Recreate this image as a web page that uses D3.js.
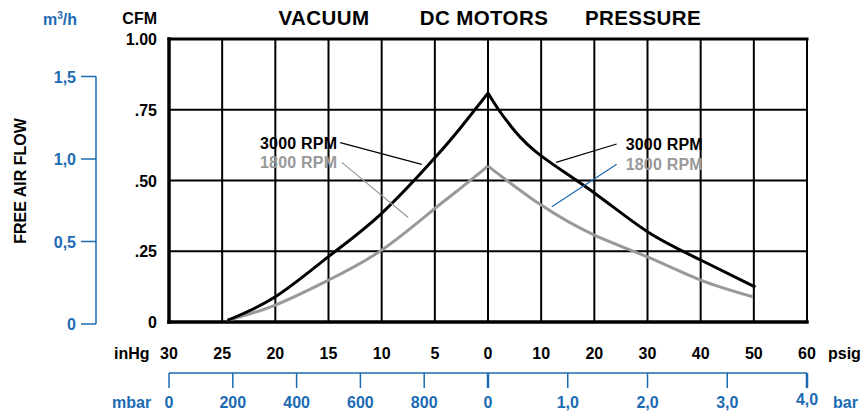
<!DOCTYPE html>
<html>
<head>
<meta charset="utf-8">
<script src="https://cdn.jsdelivr.net/npm/d3@7"></script>
<style>
  body { margin: 0; background: #fff; }
  svg text { font-family: "Liberation Sans", Arial, Helvetica, sans-serif; font-weight: bold; }
</style>
</head>
<body>
<svg id="canvas" width="862" height="411"></svg>
<script>
// tick values / labels
const inHgTicks = [30, 25, 20, 15, 10, 5, 0];
const psigTicks = [0, 10, 20, 30, 40, 50, 60];
const cfmTicks = [0, 0.25, 0.5, 0.75, 1];
const cfmLabels = ['0', '.25', '.50', '.75', '1.00'];
const m3hTicks = [0, 0.5, 1.0, 1.5];
const m3hLabels = ['0', '0,5', '1,0', '1,5'];
const mbarTicks = [0, 200, 400, 600, 800];
const barTicks = [0, 1, 2, 3, 4];
const barLabels = ['0', '1,0', '2,0', '3,0', '4,0'];

// curves: [inHg or psig, CFM]
const vac3000 = [[24.5, 0.006], [20, 0.089], [15, 0.231], [10, 0.384], [5, 0.58], [2.5, 0.69], [0, 0.809]];
const vac1800 = [[24.5, 0.006], [20, 0.06], [15, 0.148], [10, 0.254], [5, 0.401], [2.5, 0.475], [0, 0.551]];
const pres3000 = [[0, 0.809], [2, 0.75], [5, 0.676], [10, 0.587], [20, 0.456], [30, 0.319], [40, 0.219], [50.3, 0.123]];
const pres1800 = [[0, 0.551], [10, 0.413], [20, 0.307], [30, 0.23], [40, 0.148], [49.8, 0.089]];

const svg = d3.select('#canvas');
const blue = '#1b6bb3';
const gray = '#999999';
const fs = '16px';

const xVac = d3.scaleLinear().domain([30, 0]).range([169, 488]);
const xPres = d3.scaleLinear().domain([0, 60]).range([488, 807]);
const y = d3.scaleLinear().domain([0, 1]).range([322, 39]);
const yM = d3.scaleLinear().domain([0, 1.5]).range([324, 76.5]);
const xMbar = d3.scaleLinear().domain([0, 1000]).range([169, 488]);
const xBar = d3.scaleLinear().domain([0, 4]).range([488, 807]);

// grid
const grid = svg.append('g').attr('stroke', '#000').attr('stroke-width', 2);
inHgTicks.slice(1, -1).forEach(v => {
  grid.append('line').attr('x1', xVac(v)).attr('x2', xVac(v)).attr('y1', y(1)).attr('y2', y(0));
});
psigTicks.slice(0, -1).forEach(v => {
  grid.append('line').attr('x1', xPres(v)).attr('x2', xPres(v)).attr('y1', y(1)).attr('y2', y(0));
});
cfmTicks.slice(1, -1).forEach(v => {
  grid.append('line').attr('x1', xVac(30)).attr('x2', xPres(60)).attr('y1', y(v)).attr('y2', y(v));
});

// frame
const frame = svg.append('g').attr('stroke', '#000').attr('stroke-linecap', 'square');
frame.append('line').attr('x1', xVac(30)).attr('x2', xPres(60)).attr('y1', y(1)).attr('y2', y(1)).attr('stroke-width', 3);
frame.append('line').attr('x1', xPres(60)).attr('x2', xPres(60)).attr('y1', y(1)).attr('y2', y(0)).attr('stroke-width', 2);
frame.append('line').attr('x1', xVac(30)).attr('x2', xVac(30)).attr('y1', y(1)).attr('y2', y(0)).attr('stroke-width', 3.5);
frame.append('line').attr('x1', xVac(30)).attr('x2', xPres(60)).attr('y1', y(0)).attr('y2', y(0)).attr('stroke-width', 3.5);

// curves (one path per side so the peak at 0 stays sharp)
const lineVac = d3.line().x(d => xVac(d[0])).y(d => y(d[1])).curve(d3.curveNatural);
const linePres = d3.line().x(d => xPres(d[0])).y(d => y(d[1])).curve(d3.curveNatural);

[[vac1800, lineVac, gray], [pres1800, linePres, gray], [vac3000, lineVac, '#000'], [pres3000, linePres, '#000']]
  .forEach(([data, gen, col]) => {
    svg.append('path')
      .attr('d', gen(data))
      .attr('fill', 'none')
      .attr('stroke', col)
      .attr('stroke-width', 3);
  });

// leaders + labels
const leaders = [
  { from: [xVac(13.9), y(0.634)], to: [xVac(6.23), y(0.557)], col: '#000' },
  { from: [xVac(13.75), y(0.564)], to: [xVac(7.5), y(0.369)], col: gray },
  { from: [xPres(24.2), y(0.629)], to: [xPres(12.8), y(0.564)], col: '#000' },
  { from: [xPres(24.2), y(0.557)], to: [xPres(12.0), y(0.407)], col: blue }
];
leaders.forEach(l => {
  svg.append('line')
    .attr('x1', l.from[0]).attr('y1', l.from[1])
    .attr('x2', l.to[0]).attr('y2', l.to[1])
    .attr('stroke', l.col).attr('stroke-width', 1.2);
});

function label(x, yy, txt, col, anchor) {
  svg.append('text')
    .attr('x', x).attr('y', yy)
    .attr('text-anchor', anchor)
    .attr('fill', col)
    .attr('font-size', fs)
    .attr('letter-spacing', '0.2px')
    .text(txt);
}
label(leaders[0].from[0] - 3, leaders[0].from[1] + 6, '3000 RPM', '#000', 'end');
label(leaders[0].from[0] - 3, leaders[1].from[1] + 6, '1800 RPM', gray, 'end');
label(leaders[2].from[0] + 9, leaders[2].from[1] + 6, '3000 RPM', '#000', 'start');
label(leaders[2].from[0] + 9, leaders[3].from[1] + 6, '1800 RPM', gray, 'start');

// titles
[['VACUUM', 324], ['DC MOTORS', 484], ['PRESSURE', 643]].forEach(([t, x]) => {
  svg.append('text').attr('x', x).attr('y', 25).attr('text-anchor', 'middle')
    .attr('font-size', '20.5px').attr('letter-spacing', '0.4px').text(t);
});

// CFM axis labels
svg.append('text').attr('x', 157).attr('y', 24).attr('text-anchor', 'end')
  .attr('font-size', fs).text('CFM');
cfmTicks.forEach((v, i) => {
  svg.append('text').attr('x', 157).attr('y', y(v) + 6).attr('text-anchor', 'end')
    .attr('font-size', fs).text(cfmLabels[i]);
});

// m3/h axis
const mAxis = svg.append('g');
mAxis.append('line').attr('x1', 96).attr('x2', 96).attr('y1', yM(1.5)).attr('y2', yM(0))
  .attr('stroke', blue).attr('stroke-width', 1.5);
m3hTicks.forEach((v, i) => {
  mAxis.append('line').attr('x1', 81).attr('x2', 96).attr('y1', yM(v)).attr('y2', yM(v))
    .attr('stroke', blue).attr('stroke-width', 1.5);
  mAxis.append('text').attr('x', 76).attr('y', yM(v) + 6).attr('text-anchor', 'end')
    .attr('fill', blue).attr('font-size', fs).text(m3hLabels[i]);
});
const mUnit = svg.append('text').attr('x', 60).attr('y', 25).attr('text-anchor', 'middle')
  .attr('fill', blue).attr('font-size', fs);
mUnit.append('tspan').text('m');
mUnit.append('tspan').attr('font-size', '10px').attr('dy', -6).text('3');
mUnit.append('tspan').attr('dy', 6).text('/h');

svg.append('text')
  .attr('transform', 'translate(26,181) rotate(-90)')
  .attr('text-anchor', 'middle')
  .attr('font-size', fs)
  .text('FREE AIR FLOW');

// inHg / psig labels
inHgTicks.forEach(v => {
  svg.append('text').attr('x', xVac(v)).attr('y', 359).attr('text-anchor', 'middle')
    .attr('font-size', fs).text(v);
});
psigTicks.slice(1).forEach(v => {
  svg.append('text').attr('x', xPres(v)).attr('y', 359).attr('text-anchor', 'middle')
    .attr('font-size', fs).text(v);
});
svg.append('text').attr('x', 114).attr('y', 359).attr('font-size', fs).text('inHg');
svg.append('text').attr('x', 828).attr('y', 359).attr('font-size', fs).text('psig');

// mbar / bar axis
const bAxis = svg.append('g');
bAxis.append('line').attr('x1', xMbar(0)).attr('x2', xBar(4)).attr('y1', 373).attr('y2', 373)
  .attr('stroke', blue).attr('stroke-width', 1.5);
mbarTicks.forEach(v => {
  bAxis.append('line').attr('x1', xMbar(v)).attr('x2', xMbar(v)).attr('y1', 373).attr('y2', 388)
    .attr('stroke', blue).attr('stroke-width', 1.5);
  bAxis.append('text').attr('x', xMbar(v)).attr('y', 408).attr('text-anchor', 'middle')
    .attr('fill', blue).attr('font-size', fs).text(v);
});
barTicks.forEach((v, i) => {
  bAxis.append('line').attr('x1', xBar(v)).attr('x2', xBar(v)).attr('y1', 373).attr('y2', 388)
    .attr('stroke', blue).attr('stroke-width', (v === 0 || v === 4) ? 2.5 : 1.5);
  bAxis.append('text').attr('x', xBar(v)).attr('y', v === 4 ? 405 : 408).attr('text-anchor', 'middle')
    .attr('fill', blue).attr('font-size', fs).text(barLabels[i]);
});
svg.append('text').attr('x', 112).attr('y', 408).attr('fill', blue).attr('font-size', fs).text('mbar');
svg.append('text').attr('x', 833).attr('y', 408).attr('fill', blue).attr('font-size', fs).text('bar');
</script>
</body>
</html>
